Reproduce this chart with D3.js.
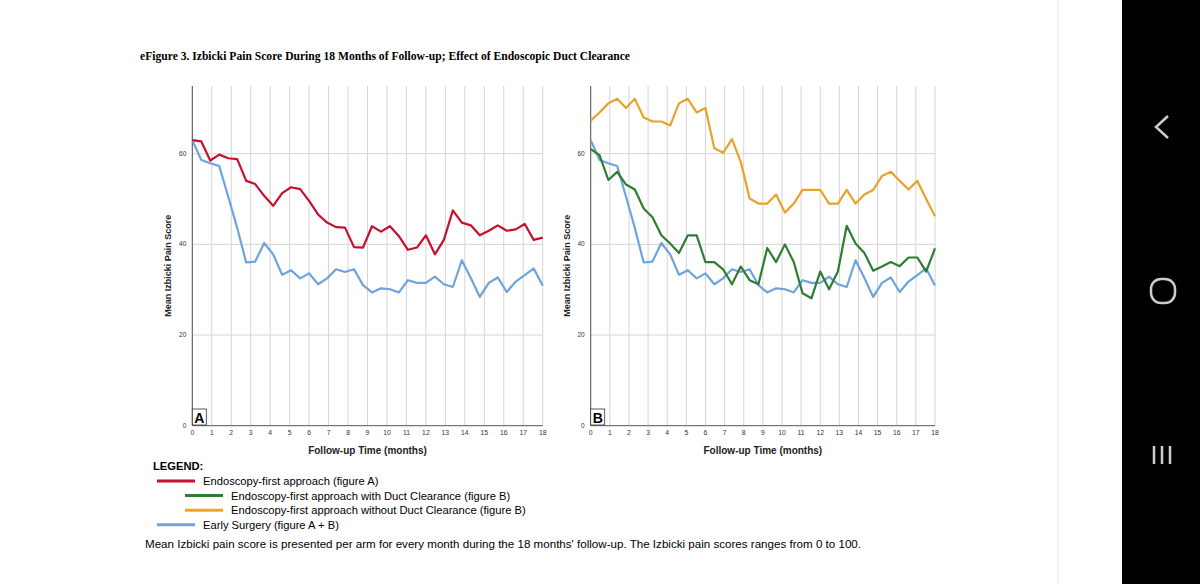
<!DOCTYPE html>
<html><head><meta charset="utf-8">
<script src="https://cdn.jsdelivr.net/npm/d3@7.9.0/dist/d3.min.js"></script>
<style>body{margin:0;background:#fff}svg{display:block}</style>
</head><body><svg width="1200" height="584"></svg>
<script>
// bi-weekly measurements, 40 points over 18 months
const endoFirst = [63,62.7,58.5,59.8,59,58.8,54,53.3,50.7,48.5,51.3,52.6,52.2,49.6,46.6,44.8,43.8,43.7,39.4,39.3,44,42.8,44,41.8,38.8,39.3,42,37.8,41,47.5,44.8,44.2,42,43,44.2,43,43.3,44.5,41,41.5];
const earlySurgery = [63,58.6,57.9,57.3,50.5,43.6,36,36.2,40.3,37.8,33.3,34.3,32.5,33.6,31.2,32.5,34.5,33.9,34.5,31,29.4,30.3,30.1,29.4,32.1,31.5,31.5,32.9,31.2,30.6,36.5,32.6,28.4,31.5,32.7,29.5,31.8,33.2,34.7,30.9];
const withClearance = [61,59.7,54.2,56,53.2,52.1,47.9,46,42,40.2,38.1,42,42,36.1,36.1,34.5,31.2,35.1,32.1,31.2,39.2,36.1,40,36.1,29.2,28.1,34,30.1,34,44.1,40.2,38.1,34.2,35.1,36.1,35.2,37.1,37.1,34,39.1];
const withoutClearance = [67.3,69.1,71.1,72.1,70.1,72.1,68,67.1,67.1,66.2,71.1,72.1,69.1,70.1,61.2,60.2,63.2,58.2,50.1,49,49,51,47,49,52,52,52,49,49,52,49,51,52,55.1,56,54,52.1,54,50,46.2];
const months = d3.range(0, 19);
const yTicks = [0, 20, 40, 60];
const legendItems = [
  {label: 'Endoscopy-first approach (figure A)', color: '#c8102e', indent: 0},
  {label: 'Endoscopy-first approach with Duct Clearance (figure B)', color: '#2e7d32', indent: 1},
  {label: 'Endoscopy-first approach without Duct Clearance (figure B)', color: '#f0a818', indent: 1},
  {label: 'Early Surgery (figure A + B)', color: '#6ea3dc', indent: 0}
];
const colors = {red: '#c8102e', blue: '#6ea3dc', green: '#2e7d32', orange: '#e8a22a'};

const svg = d3.select('svg');
svg.append('line').attr('x1', 1058).attr('x2', 1058).attr('y1', 0).attr('y2', 584)
  .attr('stroke', '#e6e6e6');

svg.append('text').attr('x', 140).attr('y', 60)
  .attr('font-family', 'Liberation Serif').attr('font-weight', 'bold').attr('font-size', 11.6)
  .text('eFigure 3.  Izbicki Pain Score During 18 Months of Follow-up; Effect of Endoscopic Duct Clearance');

function panel(x0, x1, series, letter) {
  const x = d3.scaleLinear().domain([0, 18]).range([x0, x1]);
  const y = d3.scaleLinear().domain([0, 60]).range([425.7, 153.7]);
  const top = 86;
  const g = svg.append('g');
  g.selectAll('.vg').data(months).join('line')
    .attr('x1', d => x(d)).attr('x2', d => x(d)).attr('y1', top).attr('y2', y(0))
    .attr('stroke', '#d4d4d4').attr('stroke-width', 1);
  g.selectAll('.hg').data(yTicks.slice(1)).join('line')
    .attr('x1', x0).attr('x2', x1).attr('y1', d => y(d)).attr('y2', d => y(d))
    .attr('stroke', '#d4d4d4');
  g.append('line').attr('x1', x0).attr('x2', x0).attr('y1', top).attr('y2', y(0)).attr('stroke', '#555');
  g.append('line').attr('x1', x0).attr('x2', x1).attr('y1', y(0)).attr('y2', y(0)).attr('stroke', '#555');
  g.selectAll('.xt').data(months).join('text')
    .attr('x', d => x(d)).attr('y', y(0) + 9).attr('text-anchor', 'middle')
    .attr('font-family', 'Liberation Sans').attr('font-size', 6.8).attr('fill', '#333').text(d => d);
  g.selectAll('.yt').data(yTicks).join('text')
    .attr('x', x0 - 6).attr('y', d => y(d) + 2).attr('text-anchor', 'end')
    .attr('font-family', 'Liberation Sans').attr('font-size', 6.5).attr('fill', '#333').text(d => d);
  g.append('text').attr('transform', `translate(${x0 - 21},${(top + y(0)) / 2 + 10}) rotate(-90)`)
    .attr('text-anchor', 'middle').attr('font-family', 'Liberation Sans').attr('font-weight', 'bold')
    .attr('font-size', 9).attr('fill', '#222').text('Mean Izbicki Pain Score');
  g.append('text').attr('x', (x0 + x1) / 2).attr('y', 454).attr('text-anchor', 'middle')
    .attr('font-family', 'Liberation Sans').attr('font-weight', 'bold').attr('font-size', 10)
    .attr('fill', '#222').text('Follow-up Time (months)');
  const line = d3.line().x((d, i) => x(i * 18 / 39)).y(d => y(d));
  series.forEach(s => g.append('path').attr('d', line(s.values)).attr('fill', 'none')
    .attr('stroke', s.color).attr('stroke-width', 2.2).attr('stroke-linejoin', 'round'));
  g.append('rect').attr('x', x0).attr('y', 409).attr('width', 14).attr('height', 16)
    .attr('fill', '#fff').attr('stroke', '#333').attr('stroke-width', 0.8);
  g.append('text').attr('x', x0 + 2).attr('y', 423).attr('font-family', 'Liberation Sans')
    .attr('font-weight', 'bold').attr('font-size', 14).text(letter);
}

panel(192.3, 542.7, [
  {values: earlySurgery, color: colors.blue},
  {values: endoFirst, color: colors.red}
], 'A');
panel(590.7, 935, [
  {values: earlySurgery, color: colors.blue},
  {values: withoutClearance, color: colors.orange},
  {values: withClearance, color: colors.green}
], 'B');

// legend
const lg = svg.append('g').attr('font-family', 'Liberation Sans').attr('font-size', 11.2);
lg.append('text').attr('x', 153).attr('y', 470).attr('font-weight', 'bold').text('LEGEND:');
legendItems.forEach((d, i) => {
  const yy = 481 + i * 14.6, lx = d.indent ? 185 : 157;
  lg.append('line').attr('x1', lx).attr('x2', lx + 38).attr('y1', yy).attr('y2', yy)
    .attr('stroke', d.color).attr('stroke-width', 3);
  lg.append('text').attr('x', lx + 46).attr('y', yy + 4).text(d.label);
});
lg.append('text').attr('x', 145).attr('y', 548).attr('font-size', 11.6)
  .text("Mean Izbicki pain score is presented per arm for every month during the 18 months' follow-up. The Izbicki pain scores ranges from 0 to 100.");

// phone navigation bar
svg.append('rect').attr('x', 1122).attr('y', 0).attr('width', 78).attr('height', 584).attr('fill', '#000');
svg.append('path').attr('d', 'M1168,116 L1156,127 L1168,138').attr('fill', 'none').attr('stroke', '#ccc').attr('stroke-width', 2.5);
svg.append('rect').attr('x', 1151).attr('y', 279).attr('width', 24).attr('height', 24).attr('rx', 10)
  .attr('fill', 'none').attr('stroke', '#ccc').attr('stroke-width', 2.5);
[1154, 1162, 1170].forEach(xx => svg.append('line').attr('x1', xx).attr('x2', xx)
  .attr('y1', 446).attr('y2', 464).attr('stroke', '#ccc').attr('stroke-width', 2.5));
</script></body></html>
